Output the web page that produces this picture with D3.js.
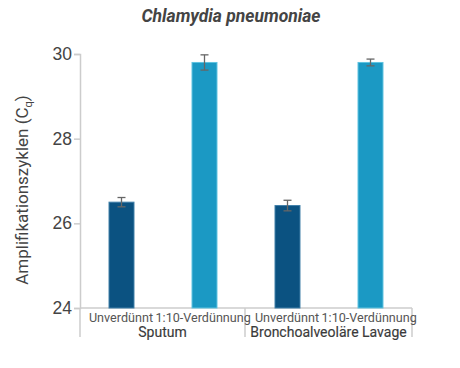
<!DOCTYPE html>
<html>
<head>
<meta charset="utf-8">
<script src="https://cdn.jsdelivr.net/npm/d3@7"></script>
<style>
  body { margin: 0; background: #fff; }
  svg { font-family: Roboto, "Noto Sans", sans-serif; }
</style>
</head>
<body>
<div id="chart"></div>
<script>
// data
var groups = ["Sputum", "Bronchoalveoläre Lavage"];
var dilutions = ["Unverdünnt", "1:10-Verdünnung"];
var cqValues = [26.50, 29.80, 26.42, 29.80];
var cqErrors = [0.11, 0.18, 0.125, 0.08];
var yTicks = [24, 26, 28, 30];

var width = 460, height = 368;
var svg = d3.select("#chart").append("svg").attr("width", width).attr("height", height);

var colors = ["#0b5281", "#1b99c4"];
var strokes = ["#3f7fa8", "#5ec3e0"];

var cats = [];
groups.forEach(function(g, gi) {
  dilutions.forEach(function(d, di) {
    cats.push({ group: g, gi: gi, dil: d, di: di, key: g + "|" + d });
  });
});
cats.forEach(function(c, i) { c.value = cqValues[i]; c.err = cqErrors[i]; });

var x = d3.scaleBand().domain(cats.map(function(c) { return c.key; }))
  .range([80, 412]).paddingInner(0.687).paddingOuter(0.3435);
var y = d3.scaleLinear().domain([24, 30]).range([308, 54]);

// title
svg.append("text").attr("x", 231).attr("y", 22).attr("text-anchor", "middle")
  .attr("font-size", 17.5).attr("font-weight", "bold").attr("font-style", "italic")
  .attr("fill", "#444").text("Chlamydia pneumoniae");

// y axis
var yAxis = svg.append("g").attr("transform", "translate(80,0)")
  .call(d3.axisLeft(y).tickValues(yTicks).tickSize(6).tickFormat(d3.format("d")));
yAxis.select(".domain").attr("stroke", "#ccc").attr("stroke-width", 1.5);
yAxis.selectAll(".tick line").attr("stroke", "#ccc").attr("stroke-width", 1.5);
yAxis.selectAll(".tick text").attr("font-size", 17.5).attr("fill", "#444").attr("x", -8);

// y label
var yl = svg.append("text").attr("transform", "translate(28,190) rotate(-90)")
  .attr("text-anchor", "middle").attr("font-size", 17).attr("fill", "#444");
yl.append("tspan").text("Amplifikationszyklen (C");
yl.append("tspan").attr("font-size", 11).attr("dy", 4).text("q");
yl.append("tspan").attr("dy", -4).text(")");

// baseline
svg.append("line").attr("x1", 80).attr("x2", 412).attr("y1", 308).attr("y2", 308)
  .attr("stroke", "#ccc").attr("stroke-width", 1.5);

// group separators
var seps = [80, 245, 412];
svg.selectAll(".sep").data(seps).enter().append("line")
  .attr("x1", function(d) { return d; }).attr("x2", function(d) { return d; })
  .attr("y1", 308).attr("y2", 337).attr("stroke", "#ccc").attr("stroke-width", 1.5);

// bars
svg.selectAll(".bar").data(cats).enter().append("rect")
  .attr("x", function(d) { return x(d.key) + 0.5; })
  .attr("y", function(d) { return y(d.value); })
  .attr("width", x.bandwidth() - 1)
  .attr("height", function(d) { return y(24) - y(d.value); })
  .attr("fill", function(d) { return colors[d.di]; })
  .attr("stroke", function(d) { return strokes[d.di]; })
  .attr("stroke-width", 1);

// error bars
var eb = svg.selectAll(".err").data(cats).enter().append("g").attr("stroke", "#666").attr("stroke-width", 1.3);
eb.append("line")
  .attr("x1", function(d) { return x(d.key) + x.bandwidth() / 2; })
  .attr("x2", function(d) { return x(d.key) + x.bandwidth() / 2; })
  .attr("y1", function(d) { return y(d.value + d.err); })
  .attr("y2", function(d) { return y(d.value - d.err); });
[1, -1].forEach(function(s) {
  eb.append("line")
    .attr("x1", function(d) { return x(d.key) + x.bandwidth() / 2 - 4; })
    .attr("x2", function(d) { return x(d.key) + x.bandwidth() / 2 + 4; })
    .attr("y1", function(d) { return y(d.value + s * d.err); })
    .attr("y2", function(d) { return y(d.value + s * d.err); });
});

// category labels, set side by side around the group centre
svg.selectAll(".dil").data(cats).enter().append("text")
  .attr("x", function(d) {
    var c = (seps[d.gi] + seps[d.gi + 1]) / 2;
    return d.di === 0 ? c - 9.5 : c - 7;
  })
  .attr("y", 322).attr("text-anchor", function(d) { return d.di === 0 ? "end" : "start"; })
  .attr("font-size", 12.6).attr("fill", "#555")
  .text(function(d) { return d.dil; });

svg.selectAll(".grp").data(groups).enter().append("text")
  .attr("x", function(d, i) { return (seps[i] + seps[i + 1]) / 2; })
  .attr("y", 337).attr("text-anchor", "middle")
  .attr("font-size", 14).attr("fill", "#3a3a3a")
  .attr("stroke", "#3a3a3a").attr("stroke-width", 0.15)
  .text(function(d) { return d; });
</script>
</body>
</html>
